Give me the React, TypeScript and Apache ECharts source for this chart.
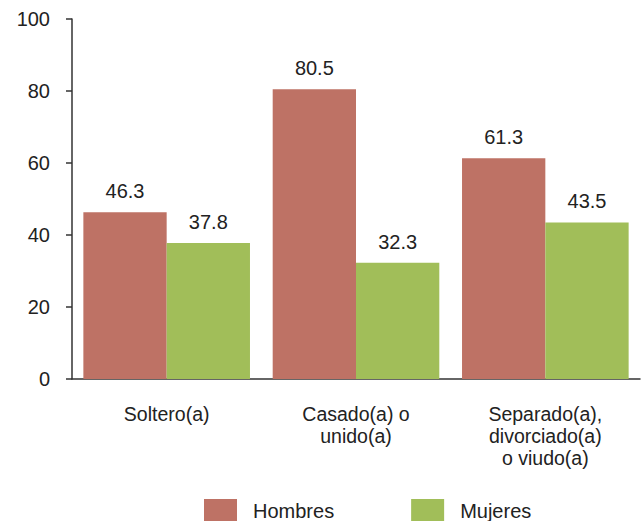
import React, { useEffect, useRef } from "react";
import * as echarts from "echarts";

const categories = ["Soltero(a)", "Casado(a) o\nunido(a)", "Separado(a),\ndivorciado(a)\no viudo(a)"];
const hombres = [46.3, 80.5, 61.3];
const mujeres = [37.8, 32.3, 43.5];
const seriesNames = ["Hombres", "Mujeres"];

export default function App() {
  const ref = useRef<HTMLDivElement>(null);
  useEffect(() => {
    document.body.style.margin = "0";
    const chart = echarts.init(ref.current!, null, { renderer: "svg" });
    const font = "'Liberation Sans', Arial, sans-serif";
    const labelStyle = {
      show: true,
      position: "top" as const,
      distance: 11,
      fontSize: 20,
      fontFamily: font,
      color: "#222",
      formatter: (p: any) => p.value.toFixed(1),
    };
    chart.setOption({
      animation: false,
      grid: { left: 72, right: 2, top: 19, bottom: 142, containLabel: false },
      legend: {
        left: 204,
        top: 499,
        padding: 0,
        itemWidth: 33,
        itemHeight: 24,
        itemGap: 77,
        icon: "rect",
        textStyle: { fontSize: 20, fontFamily: font, color: "#222", padding: [0, 0, 0, 11] },
        data: seriesNames,
      },
      xAxis: {
        type: "category",
        data: categories,
        axisLine: { show: true, lineStyle: { color: "#333", width: 1.5 } },
        axisTick: { show: false },
        axisLabel: { margin: 24, fontSize: 19.5, lineHeight: 22, fontFamily: font, color: "#222", interval: 0 },
      },
      yAxis: {
        type: "value",
        min: 0,
        max: 100,
        interval: 20,
        splitLine: { show: false },
        axisLine: { show: true, lineStyle: { color: "#333", width: 1.5 } },
        axisTick: { show: true, length: 6, lineStyle: { color: "#333", width: 1.5 } },
        axisLabel: { margin: 22, fontSize: 20, fontFamily: font, color: "#222" },
      },
      series: [
        {
          name: seriesNames[0],
          type: "bar",
          data: hombres,
          barGap: "0%",
          barCategoryGap: "12%",
          itemStyle: { color: "#BE7265" },
          label: labelStyle,
        },
        {
          name: seriesNames[1],
          type: "bar",
          data: mujeres,
          itemStyle: { color: "#A1BE59" },
          label: labelStyle,
        },
      ],
    });
    return () => chart.dispose();
  }, []);
  return <div ref={ref} style={{ width: 642, height: 521 }} />;
}
